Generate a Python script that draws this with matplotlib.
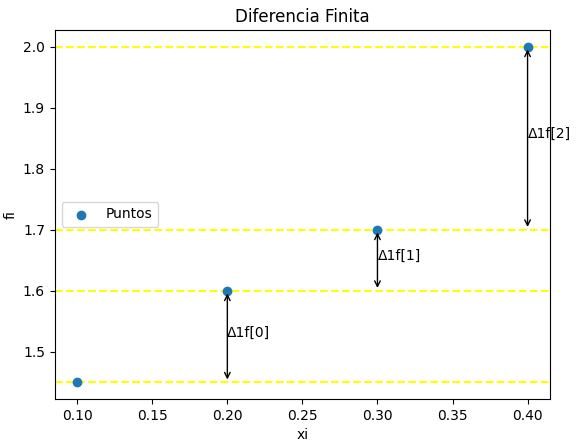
import matplotlib
matplotlib.use("Agg")
import matplotlib.pyplot as plt

xi = [0.1, 0.2, 0.3, 0.4]
fi = [1.45, 1.6, 1.7, 2.0]
labels = ["Δ1f[0]", "Δ1f[1]", "Δ1f[2]"]

fig, ax = plt.subplots(figsize=(5.76, 4.4), dpi=100)
fig.subplots_adjust(left=0.095, right=0.955, top=0.932, bottom=0.093)
ax.scatter(xi, fi, label="Puntos", zorder=3)
for y in fi:
    ax.axhline(y, color="yellow", linestyle="--")
for i in range(len(xi) - 1):
    x = xi[i + 1]
    ax.annotate("", xy=(x, fi[i + 1]), xytext=(x, fi[i]),
                arrowprops=dict(arrowstyle="<->", color="black"))
    ax.text(x, (fi[i] + fi[i + 1]) / 2, labels[i], ha="left", va="baseline")
ax.set_title("Diferencia Finita")
ax.set_xlabel("xi")
ax.set_ylabel("fi")
ax.legend(loc="center left")
fig.savefig("out.png")
